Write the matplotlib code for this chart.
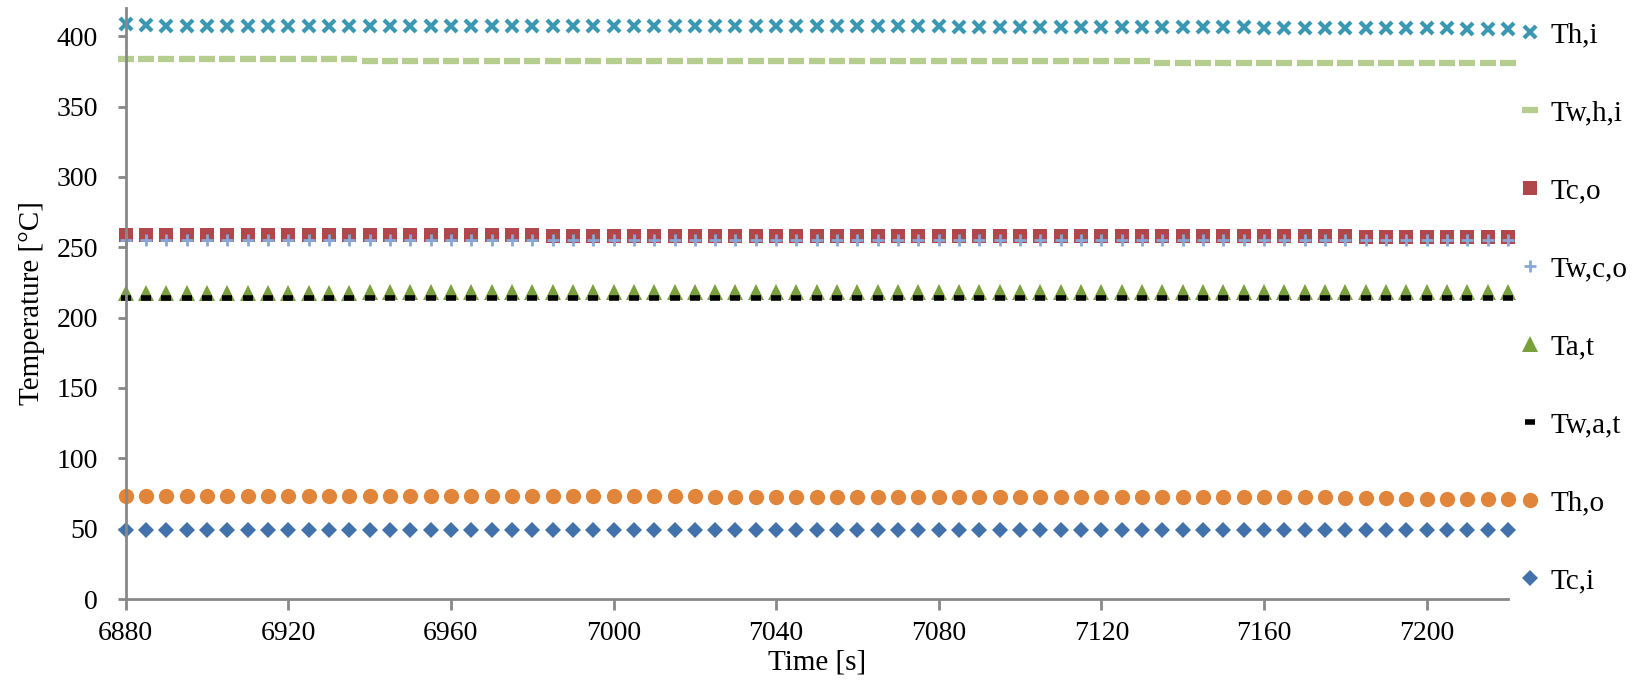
import numpy as np
import matplotlib
matplotlib.use("Agg")
import matplotlib.pyplot as plt

plt.rcParams['font.family'] = ['Liberation Serif', 'DejaVu Serif']

time = np.arange(6880, 7221, 5)  # 69 samples, 5 s step

Th_i = [408.3, 408.1] + [407.4] * 19 + [406.9] * 20 + [406.2] * 15 + [405.6] * 10 + [405.2] * 3
Tw_h_i = [383.5] * 12 + [382.6] * 29 + [382.0] * 10 + [381.2] * 18
Tc_o = [259.0] * 21 + [258.0] * 40 + [257.0] * 8
Tw_c_o = [255.2] * 50 + [254.9] * 19
Ta_t = [217.2] * 12 + [218.2] * 57
Tw_a_t = [214.0] * 69
Th_o = [73.0] * 29 + [72.3] * 31 + [72.0] * 3 + [71.0] * 6
Tc_i = [49.0] * 69

labels = ["Th,i", "Tw,h,i", "Tc,o", "Tw,c,o", "Ta,t", "Tw,a,t", "Th,o", "Tc,i"]
series = [Th_i, Tw_h_i, Tc_o, Tw_c_o, Ta_t, Tw_a_t, Th_o, Tc_i]

styles = [
    dict(marker='x', color='#3b98b3', ms=8.5, mew=3.0),
    dict(marker='_', color='#b5cd8e', ms=12, mew=4.5),
    dict(marker='s', color='#b0474a', ms=10, mew=0),
    dict(marker='+', color='#88a9d8', ms=9, mew=2),
    dict(marker='^', color='#7aa03e', ms=11, mew=0),
    dict(marker='_', color='#000000', ms=6.5, mew=4),
    dict(marker='o', color='#e0853a', ms=11, mew=0),
    dict(marker='D', color='#4272ab', ms=8.5, mew=0),
]

fig = plt.figure(figsize=(16.4, 6.86), dpi=100)
ax = fig.add_axes([0.0766, 0.1268, 0.9195 - 0.0766, 0.9883 - 0.1268])

handles = []
for lab, vals, st in zip(labels, series, styles):
    h, = ax.plot(time, vals, linestyle='none', marker=st['marker'], color=st['color'],
                 markersize=st['ms'], markeredgewidth=st['mew'], label=lab, clip_on=False)
    handles.append(h)

ax.set_xlim(6880, 7220)
ax.set_ylim(0, 420)
ax.set_xticks(np.arange(6880, 7201, 40))
ax.set_yticks(np.arange(0, 401, 50))

for s in ['top', 'right']:
    ax.spines[s].set_visible(False)
for s in ['left', 'bottom']:
    ax.spines[s].set_color('#888888')
    ax.spines[s].set_linewidth(2)
ax.tick_params(axis='both', colors='#888888', labelcolor='black', labelsize=20, width=2)
ax.tick_params(axis='x', length=8, pad=8)
ax.tick_params(axis='y', length=6, pad=14)

ax.set_xlabel("Time [s]", fontsize=21, labelpad=2)
ax.set_ylabel("Temperature [°C]", fontsize=21, labelpad=8)

leg = fig.legend(handles=handles, labels=labels, loc='upper left',
                 bbox_to_anchor=(1518 / 1640, 1 - 22 / 686), frameon=False,
                 fontsize=21, handlelength=0.8, handletextpad=0.3,
                 labelspacing=1.77, borderaxespad=0, borderpad=0)

fig.savefig("out.png", dpi=100)
